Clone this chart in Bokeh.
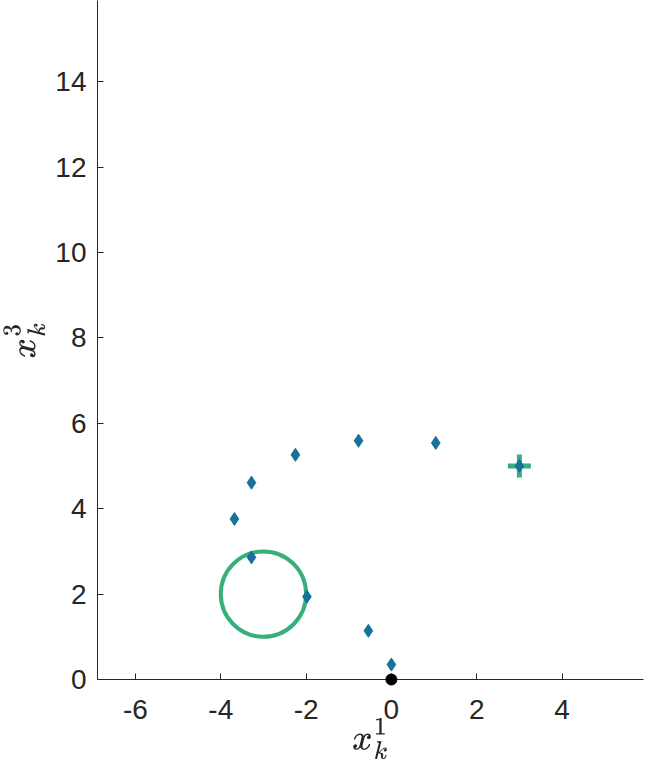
from bokeh.plotting import figure
from bokeh.embed import file_html
from bokeh.resources import INLINE
from bokeh.models import Range1d, FixedTicker, PrintfTickFormatter

# Data
traj_x = [0.0, -0.54, -1.98, -3.28, -3.68, -3.28, -2.25, -0.77, 1.04, 3.0]
traj_y = [0.35, 1.14, 1.94, 2.86, 3.76, 4.61, 5.26, 5.59, 5.54, 5.0]
start_x = [0.0]
start_y = [0.0]
goal_x = [3.0]
goal_y = [5.0]
obs_x = [-3.0]
obs_y = [2.0]
obs_r = [1.0]
xticks = [-6, -4, -2, 0, 2, 4]
yticks = [0, 2, 4, 6, 8, 10, 12, 14, 16]
x_label = r"$$x_k^1$$"
y_label = r"$$x_k^3$$"

BLUE = "#18719a"
GREEN = "#36b07b"
AXC = "#262626"

p = figure(width=646, height=762, output_backend="svg", toolbar_location=None,
           x_range=Range1d(-6.89, 5.91), y_range=Range1d(0, 15.9),
           min_border_left=95, min_border_right=3, min_border_top=0,
           min_border_bottom=83)
p.outline_line_color = None
p.grid.visible = False
p.background_fill_color = "white"
p.border_fill_color = "white"

for ax in (p.xaxis[0], p.yaxis[0]):
    ax.axis_line_color = AXC
    ax.axis_line_width = 1
    ax.major_tick_line_color = AXC
    ax.major_tick_in = 6
    ax.major_tick_out = 0
    ax.minor_tick_line_color = None
    ax.major_label_text_font = "Liberation Sans"
    ax.major_label_text_font_size = "28px"
    ax.major_label_text_color = AXC
    ax.axis_label_text_color = AXC
    ax.axis_label_text_font_size = "30px"
    ax.formatter = PrintfTickFormatter(format="%d")

p.xaxis[0].ticker = FixedTicker(ticks=xticks)
p.yaxis[0].ticker = FixedTicker(ticks=yticks)
p.xaxis[0].major_label_standoff = 20
p.yaxis[0].major_label_standoff = 11
p.xaxis[0].axis_label = x_label
p.yaxis[0].axis_label = y_label
p.xaxis[0].axis_label_standoff = -4
p.yaxis[0].axis_label_standoff = 7

p.circle(x=obs_x, y=obs_y, radius=obs_r[0], fill_color=None,
         line_color=GREEN, line_width=4)
p.scatter(x=goal_x, y=goal_y, marker="cross", size=23, line_color=GREEN,
          line_width=5)
p.scatter(x=traj_x, y=traj_y, marker="diamond", size=13, fill_color=BLUE,
          line_color=BLUE, line_width=1)
p.scatter(x=start_x, y=start_y, marker="circle", size=11, fill_color="black",
          line_color="black", level="overlay")

open("out.html", "w").write(file_html(p, INLINE))
